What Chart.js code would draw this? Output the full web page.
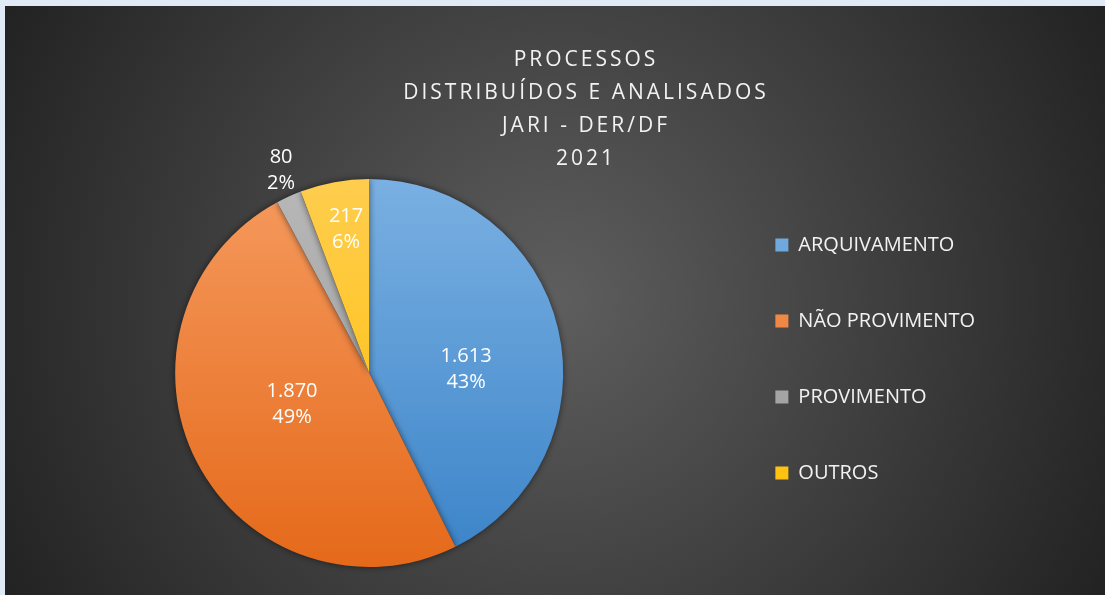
<!DOCTYPE html>
<html>
<head>
<meta charset="utf-8">
<script src="https://cdn.jsdelivr.net/npm/chart.js@4.4.0/dist/chart.umd.min.js"></script>
<style>
  html, body { margin: 0; padding: 0; background: #dfeaf6; }
  #wrap { position: absolute; left: 5px; top: 6px; width: 1100px; height: 589px; }
</style>
</head>
<body>
<div id="wrap"><canvas id="my-chart"></canvas></div>
<script>
const titleLines = ['PROCESSOS', 'DISTRIBUÍDOS E ANALISADOS', 'JARI - DER/DF', '2021']
const categories = ['ARQUIVAMENTO', 'NÃO PROVIMENTO', 'PROVIMENTO', 'OUTROS']
const values = [1613, 1870, 80, 217]

const colorsTop = ['#7ab0e2', '#f59a5e', '#b8b8b8', '#ffcd4e']
const colorsBottom = ['#3a83c8', '#e5691a', '#959595', '#ffbe00']

// where each value label sits: fraction of the radius, nudge in degrees
const labelRadius = [0.5, 0.43, 1.14, 0.75]
const labelNudge = [10.8, 5, 1, 1.2]

const ctx = document.querySelector('#my-chart').getContext('2d')

const fmt = n => String(n).replace(/\B(?=(\d{3})+(?!\d))/g, '.')

// vertical gradient per slice, like the excel fill
const sliceFill = function(c) {
    const area = c.chart.chartArea
    const i = c.dataIndex
    if (!area) return colorsBottom[i]
    const g = c.chart.ctx.createLinearGradient(0, area.top, 0, area.bottom)
    g.addColorStop(0, colorsTop[i])
    g.addColorStop(1, colorsBottom[i])
    return g
}

const bgPlugin = {
    id: 'bg',
    beforeDraw(chart) {
        const c = chart.ctx, w = chart.width, h = chart.height
        c.save()
        const g = c.createRadialGradient(w * 0.5, h * 0.5, 0, w * 0.5, h * 0.5, 625)
        g.addColorStop(0, '#5e5e5e')
        g.addColorStop(1, '#222222')
        c.fillStyle = g
        c.fillRect(0, 0, w, h)
        c.restore()
    }
}

const shadowPlugin = {
    id: 'pieShadow',
    beforeDatasetsDraw(chart) {
        const c = chart.ctx
        c.save()
        c.shadowColor = 'rgba(0,0,0,0.55)'
        c.shadowBlur = 7
    },
    afterDatasetsDraw(chart) {
        chart.ctx.restore()
    }
}

const labelPlugin = {
    id: 'sliceLabels',
    afterDraw(chart) {
        const c = chart.ctx
        const meta = chart.getDatasetMeta(0)
        const total = values.reduce((a, b) => a + b, 0)
        c.save()
        c.font = '20px "Open Sans"'
        c.fillStyle = '#ffffff'
        c.textAlign = 'center'
        c.textBaseline = 'middle'
        meta.data.forEach((arc, i) => {
            const p = arc.getProps(['x', 'y', 'startAngle', 'endAngle', 'outerRadius'], true)
            const a = (p.startAngle + p.endAngle) / 2 + labelNudge[i] * Math.PI / 180
            const r = p.outerRadius * labelRadius[i]
            const x = p.x + Math.cos(a) * r
            const y = p.y + Math.sin(a) * r
            c.fillText(fmt(values[i]), x, y - 13)
            c.fillText(Math.round(values[i] / total * 100) + '%', x, y + 13)
        })
        c.restore()
    }
}

const titlePlugin = {
    id: 'bigTitle',
    afterDraw(chart) {
        const c = chart.ctx
        c.save()
        c.font = '21px "Open Sans"'
        c.letterSpacing = '3px'
        c.fillStyle = '#f2f2f2'
        c.textAlign = 'center'
        c.textBaseline = 'middle'
        titleLines.forEach((t, i) => c.fillText(t, 581, 54 + i * 33))
        c.restore()
    }
}

const myChart = new Chart(ctx, {
    type: 'pie',
    data: {
        labels: categories,
        datasets: [{ data: values, backgroundColor: sliceFill, borderWidth: 0, hoverOffset: 0 }]
    },
    options: {
        responsive: true,
        maintainAspectRatio: false,
        animation: false,
        layout: { padding: { top: 173, bottom: 28, left: 14, right: 120 } },
        plugins: {
            legend: {
                position: 'right',
                align: 'start',
                fullSize: false,
                labels: {
                    color: '#f2f2f2',
                    font: { size: 20, family: '"Open Sans", sans-serif' },
                    boxWidth: 13,
                    boxHeight: 13,
                    padding: 56
                }
            },
            tooltip: { enabled: false }
        }
    },
    plugins: [bgPlugin, shadowPlugin, labelPlugin, titlePlugin]
})
</script>
</body>
</html>
